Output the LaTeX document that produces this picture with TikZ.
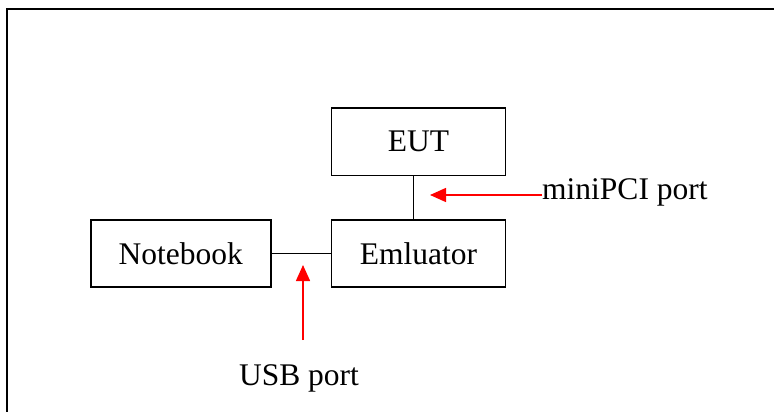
\documentclass[tikz,border=0pt]{standalone}
\usepackage{fontspec}
\setmainfont{Liberation Serif}
\usepackage{tikz}
\usetikzlibrary{positioning,arrows.meta}

\begin{document}
\begin{tikzpicture}[x=1pt,y=-1pt,node distance=44pt,
  every node/.style={font=\fontsize{31.5}{37}\selectfont},
  unitbox/.style={draw,rectangle,line width=1.8pt,minimum width=174pt,minimum height=67.5pt},
  portlabel/.style={inner sep=0pt},
  portarrow/.style={-{Triangle[length=16pt,width=14pt]},line width=1.5pt,red}]
  \useasboundingbox (0,0) rectangle (774,412);
  % outer frame (top and left edges only)
  \draw[line width=2pt] (7,412) -- (7,9) -- (774,9);

  % boxes
  \node[unitbox] (emu) at (418.5,253.5) {Emluator};
  \node[unitbox,minimum width=180pt,left=59pt of emu] (nb) {Notebook};
  \node[unitbox,above=42.5pt of emu] (eut) {EUT};

  % links
  \draw[line width=1.8pt] (nb) -- (emu);
  \draw[line width=1.8pt] ([xshift=-5pt]eut.south) -- ([xshift=-5pt]emu.north);

  % port labels
  \node[portlabel,anchor=base west] (pci) at (542,199) {miniPCI port};
  \node[portlabel,anchor=base] (usb) at (299,385) {USB port};
  \coordinate (pcitip) at (430,195);
  \coordinate (usbtip) at (303,265);
  \coordinate (usbtail) at (303,340);

  \draw[portarrow] (pci.west |- pcitip) -- (pcitip);
  \draw[portarrow] (usbtail) -- (usbtip);
\end{tikzpicture}
\end{document}
